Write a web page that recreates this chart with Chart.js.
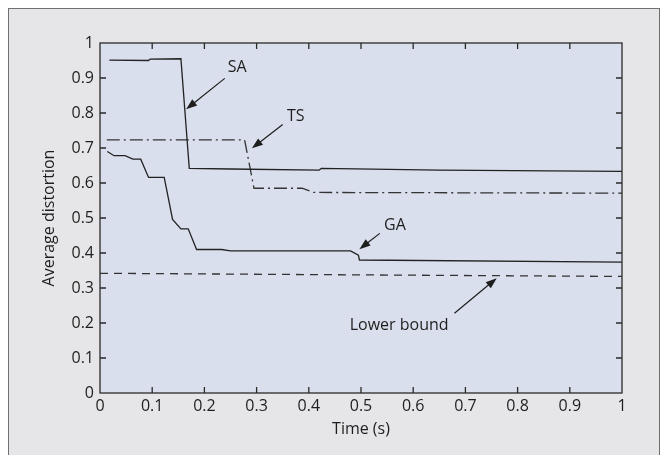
<!DOCTYPE html>
<html>
<head>
<meta charset="utf-8">
<script src="https://cdn.jsdelivr.net/npm/chart.js@4.4.1/dist/chart.umd.min.js"></script>
<style>
  html, body { margin: 0; padding: 0; background: #fff; }
  canvas { display: block; }
</style>
</head>
<body>
<canvas id="myChart" width="667" height="455"></canvas>
<script>
// tick values
const xTicks = [0, 0.1, 0.2, 0.3, 0.4, 0.5, 0.6, 0.7, 0.8, 0.9, 1];
const yTicks = [0, 0.1, 0.2, 0.3, 0.4, 0.5, 0.6, 0.7, 0.8, 0.9, 1];

// SA curve
const saTime = [0.018, 0.093, 0.096, 0.155, 0.171, 0.25, 0.42, 0.424, 0.65, 1];
const saDist = [0.951, 0.950, 0.954, 0.955, 0.642, 0.640, 0.637, 0.642, 0.637, 0.633];

// TS curve
const tsTime = [0.013, 0.277, 0.295, 0.387, 0.409, 1];
const tsDist = [0.723, 0.723, 0.585, 0.585, 0.573, 0.571];

// GA curve
const gaTime = [0.014, 0.027, 0.048, 0.063, 0.078, 0.093, 0.123, 0.139, 0.155, 0.169, 0.185, 0.233, 0.25, 0.48, 0.495, 0.497, 1];
const gaDist = [0.69, 0.678, 0.678, 0.668, 0.668, 0.616, 0.616, 0.496, 0.469, 0.469, 0.41, 0.41, 0.406, 0.406, 0.394, 0.38, 0.374];

// lower bound
const lbTime = [0, 1];
const lbDist = [0.342, 0.333];

// callouts: label point, arrow start, arrow tip (data units)
const notes = [
  { text: 'SA', at: [0.263, 0.930], from: [0.239, 0.899], to: [0.165, 0.811] },
  { text: 'TS', at: [0.375, 0.789], from: [0.350, 0.767], to: [0.291, 0.699] },
  { text: 'GA', at: [0.565, 0.480], from: [0.536, 0.456], to: [0.497, 0.411] },
  { text: 'Lower bound', at: [0.573, 0.192], from: [0.679, 0.228], to: [0.760, 0.328] }
];

const pts = (xs, ys) => xs.map((x, i) => ({ x: x, y: ys[i] }));
const FONT = '"Open Sans", "Noto Sans", sans-serif';
const INK = '#1e1e1e';

const backdrop = {
  id: 'backdrop',
  beforeDraw(chart) {
    const { ctx, chartArea: a } = chart;
    ctx.save();
    ctx.fillStyle = '#fff';
    ctx.fillRect(0, 0, chart.width, chart.height);
    ctx.fillStyle = '#e6e6e8';
    ctx.fillRect(8, 8, 652, chart.height);
    ctx.strokeStyle = '#707070';
    ctx.lineWidth = 1;
    ctx.strokeRect(8.5, 8.5, 651, chart.height + 5);
    ctx.fillStyle = '#d9dfec';
    ctx.fillRect(a.left, a.top, a.right - a.left, a.bottom - a.top);
    ctx.restore();
  },
  afterDatasetsDraw(chart) {
    const { ctx, chartArea: a, scales } = chart;
    ctx.save();
    ctx.strokeStyle = '#2a2a2a';
    ctx.lineWidth = 1.3;
    const len = 6;
    ctx.beginPath();
    xTicks.slice(1, -1).forEach(v => {
      const px = scales.x.getPixelForValue(v);
      ctx.moveTo(px, a.bottom); ctx.lineTo(px, a.bottom - len);
      ctx.moveTo(px, a.top); ctx.lineTo(px, a.top + len);
    });
    yTicks.slice(1, -1).forEach(v => {
      const py = scales.y.getPixelForValue(v);
      ctx.moveTo(a.left, py); ctx.lineTo(a.left + len, py);
      ctx.moveTo(a.right, py); ctx.lineTo(a.right - len, py);
    });
    ctx.stroke();
    ctx.strokeRect(a.left, a.top, a.right - a.left, a.bottom - a.top);

    // callouts
    ctx.fillStyle = INK;
    ctx.strokeStyle = INK;
    ctx.lineWidth = 1.2;
    ctx.font = '16px ' + FONT;
    ctx.textAlign = 'center';
    ctx.textBaseline = 'middle';
    notes.forEach(n => {
      ctx.fillText(n.text, scales.x.getPixelForValue(n.at[0]), scales.y.getPixelForValue(n.at[1]));
      const x1 = scales.x.getPixelForValue(n.from[0]), y1 = scales.y.getPixelForValue(n.from[1]);
      const x2 = scales.x.getPixelForValue(n.to[0]), y2 = scales.y.getPixelForValue(n.to[1]);
      const ang = Math.atan2(y2 - y1, x2 - x1);
      const hl = 11, hw = 4;
      ctx.beginPath();
      ctx.moveTo(x1, y1);
      ctx.lineTo(x2 - Math.cos(ang) * hl * 0.8, y2 - Math.sin(ang) * hl * 0.8);
      ctx.stroke();
      ctx.beginPath();
      ctx.moveTo(x2, y2);
      ctx.lineTo(x2 - Math.cos(ang) * hl - Math.sin(ang) * hw, y2 - Math.sin(ang) * hl + Math.cos(ang) * hw);
      ctx.lineTo(x2 - Math.cos(ang) * hl + Math.sin(ang) * hw, y2 - Math.sin(ang) * hl - Math.cos(ang) * hw);
      ctx.closePath();
      ctx.fill();
    });
    ctx.restore();
  }
};

const lineStyle = { showLine: true, pointRadius: 0, fill: false, tension: 0, borderColor: '#222', borderWidth: 1.3 };

new Chart(document.getElementById('myChart'), {
  type: 'scatter',
  data: {
    datasets: [
      Object.assign({ label: 'SA', data: pts(saTime, saDist) }, lineStyle),
      Object.assign({ label: 'TS', data: pts(tsTime, tsDist), borderDash: [13, 4, 2, 4], borderColor: '#333' }, lineStyle, { borderColor: '#333' }),
      Object.assign({ label: 'GA', data: pts(gaTime, gaDist) }, lineStyle),
      Object.assign({ label: 'Lower bound', data: pts(lbTime, lbDist), borderDash: [8, 6] }, lineStyle, { borderColor: '#333' })
    ]
  },
  options: {
    responsive: false,
    animation: false,
    layout: { padding: { left: 0, top: 43, right: 45, bottom: 0 } },
    plugins: { legend: { display: false }, tooltip: { enabled: false } },
    scales: {
      x: {
        type: 'linear', min: 0, max: 1,
        afterFit: s => { s.height = 62; },
        afterBuildTicks: s => { s.ticks = xTicks.map(v => ({ value: v })); },
        grid: { display: false, drawTicks: false },
        border: { display: false },
        ticks: { color: INK, font: { family: FONT, size: 16 }, padding: 4, maxRotation: 0, autoSkip: false,
                 callback: v => String(+v.toFixed(1)) },
        title: { display: true, text: 'Time (s)', color: INK, font: { family: FONT, size: 16 }, padding: { top: 0, bottom: 16 } }
      },
      y: {
        type: 'linear', min: 0, max: 1,
        afterFit: s => { s.width = 100; },
        afterBuildTicks: s => { s.ticks = yTicks.map(v => ({ value: v })); },
        grid: { display: false, drawTicks: false },
        border: { display: false },
        ticks: { color: INK, font: { family: FONT, size: 16 }, padding: 6, autoSkip: false,
                 callback: v => String(+v.toFixed(1)) },
        title: { display: true, text: 'Average distortion', color: INK, font: { family: FONT, size: 16 }, padding: { top: 40, bottom: 0 } }
      }
    }
  },
  plugins: [backdrop]
});
</script>
</body>
</html>
